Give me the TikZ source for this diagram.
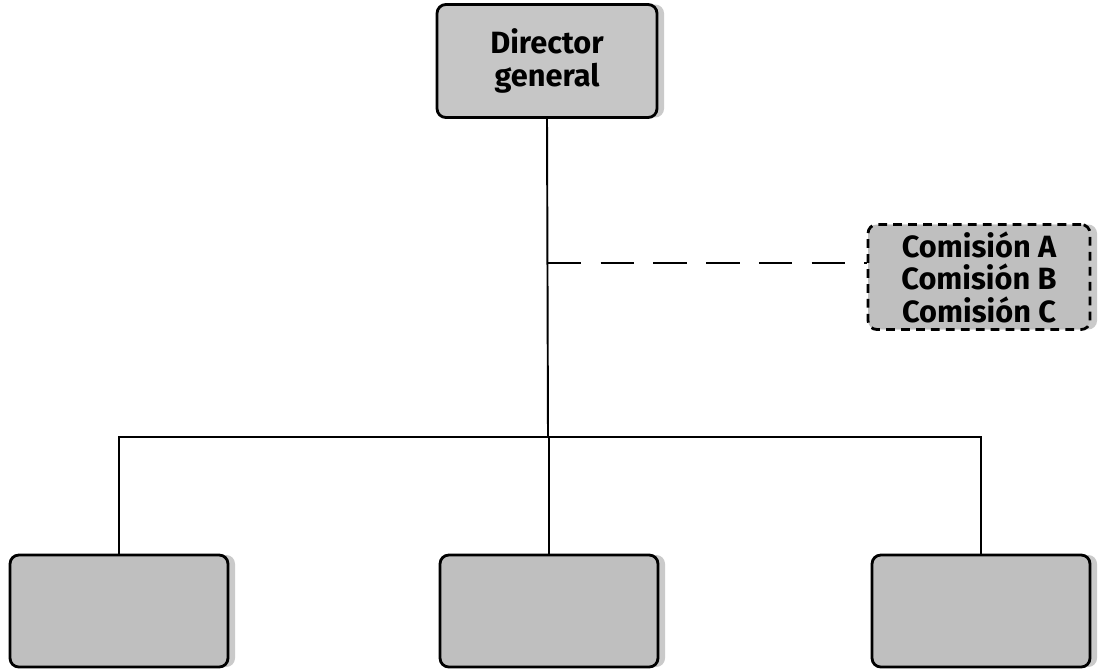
\documentclass[tikz,border=0pt]{standalone}
\usepackage{fontspec}
\setmainfont{Fira Sans}
\usetikzlibrary{positioning,shadows}

\begin{document}
\begin{tikzpicture}
	[   x=0.02cm, y=-0.02cm,
		box/.style={draw=black,line width=1.6pt,fill=#1,rounded corners=5pt,minimum width=4.36cm,minimum height=2.24cm,align=center,font=\bfseries\fontsize{17.5}{18.5}\selectfont,drop shadow={shadow xshift=4pt,shadow yshift=0pt,fill=gray!70,opacity=0.6}},
	]
	\tikzset{link/.style={draw,line width=1.1pt}}
	\useasboundingbox (0,0) rectangle (1105,670);
	\node[box=gray!45,minimum width=4.4cm,minimum height=2.26cm] (dir) at (547,61) {Director\\general};
	\node[box=gray!50,dash pattern=on 5pt off 3.5pt,minimum width=4.44cm,minimum height=2.1cm] (com) at (979,277) {Comisión A\\Comisión B\\Comisión C};
	\coordinate (bus) at (548,437);
	\coordinate (tap) at (548,263);
	
	\foreach \x/\n in {119/1,549/2,981/3}
	{
		\node[box=gray!50] (area-\n) at (\x,611) {};
		\draw[link] (area-\n.north) |- (bus);
	}
	\draw[link] (dir.south) -- (bus);
	\draw[link,dash pattern=on 19pt off 11pt] (tap) -- (tap -| com.west);
\end{tikzpicture}
\end{document}
